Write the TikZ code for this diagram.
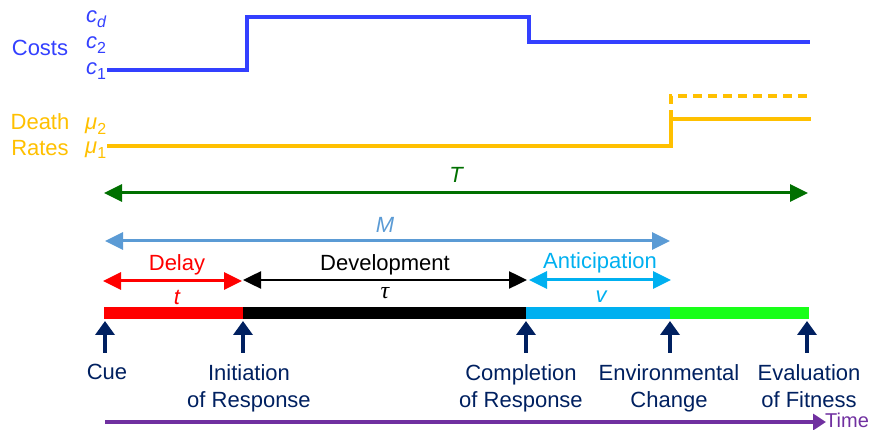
\documentclass[tikz,border=0pt]{standalone}
\usepackage{fontspec}
\setmainfont{Liberation Sans}
\newfontfamily\serifit{Liberation Serif}
\usetikzlibrary{arrows.meta}
\definecolor{costblue}{RGB}{51,64,255}
\definecolor{deathor}{RGB}{255,192,0}
\definecolor{tgreen}{RGB}{0,112,0}
\definecolor{msteel}{RGB}{91,155,213}
\definecolor{antcyan}{RGB}{0,176,240}
\definecolor{bargreen}{RGB}{24,255,24}
\definecolor{navy}{RGB}{0,32,96}
\definecolor{timepurple}{RGB}{112,48,160}
\newcommand{\mysub}[1]{\raisebox{-5pt}{\fontsize{16}{16}\selectfont #1}}
\tikzset{
  lab/.style={font=\fontsize{22}{27}\selectfont, inner sep=0pt, align=center},
  dimarrow/.style={line width=3pt, {Triangle[length=18pt,width=17pt]}-{Triangle[length=18pt,width=17pt]}},
  uparrow/.style={draw=navy, line width=4.5pt, -{Triangle[length=14pt,width=19pt]}},
  levelline/.style={line width=4pt},
}
\begin{document}
\begin{tikzpicture}[x=1pt,y=-1pt]
\useasboundingbox (0,0) rectangle (873,430);

% left labels
\node[lab, text=costblue] (costs) at (40,48) {Costs};
\node[lab, text=costblue, anchor=west] (cd) at (86,19) {\itshape c\mysub{d}};
\node[lab, text=costblue, anchor=west] (c2) at (86,45) {\itshape c\mysub{\upshape 2}};
\node[lab, text=costblue, anchor=west] (c1) at (86,71) {\itshape c\mysub{\upshape 1}};
\node[lab, text=deathor] (death) at (40,122) {Death};
\node[lab, text=deathor] (rates) at (40,148) {Rates};
\node[lab, text=deathor, anchor=west] (mu2) at (85,126) {\itshape μ\mysub{\upshape 2}};
\node[lab, text=deathor, anchor=west] (mu1) at (85,150) {\itshape μ\mysub{\upshape 1}};

% cost and death lines
\draw[levelline, costblue, line join=miter] (107,70) -- (247,70) -- (247,17) -- (529,17) -- (529,42) -- (810,42);
\draw[levelline, deathor, line width=3.5pt] (107,146) -- (671,146) -- (671,119) -- (811,119);
\draw[levelline, deathor, line width=3.5pt, dash pattern=on 9pt off 6pt] (671,119) -- (671,96) -- (811,96);

% timeline points
\coordinate (p0) at (104,313);
\coordinate (p1) at (243,313);
\coordinate (p2) at (526,313);
\coordinate (p3) at (670,313);
\coordinate (p4) at (809,313);

% bar
\fill[red] (104,307) rectangle (243,319);
\fill[black] (243,307) rectangle (526,319);
\fill[antcyan] (526,307) rectangle (670,319);
\fill[bargreen] (670,307) rectangle (809,319);

% dimension arrows
\coordinate (tl) at (104,193); \coordinate (tr) at (808,193);
\draw[dimarrow, tgreen] (tl) -- (tr);
\node[lab, text=tgreen] (tlab) at (456,175) {\itshape T};

\coordinate (ml) at (105,241); \coordinate (mr) at (670,241);
\draw[dimarrow, msteel] (ml) -- (mr);
\node[lab, text=msteel] (mlab) at (385,225) {\itshape M};

\coordinate (dl) at (103,281); \coordinate (dr) at (242,281);
\draw[dimarrow, red] (dl) -- (dr);
\node[lab, text=red] (delay) at (177,265) {Delay};
\node[lab, text=red] (tsmall) at (177,297) {\itshape t};

\coordinate (vl) at (243,280); \coordinate (vr) at (527,280);
\draw[dimarrow, black, line width=2.5pt] (vl) -- (vr);
\node[lab] (devel) at (385,265) {Development};
\node[lab, font=\fontsize{24}{27}\selectfont\serifit\itshape] (tau) at (385,293) {τ};

\coordinate (al) at (529,280); \coordinate (ar) at (671,280);
\draw[dimarrow, antcyan] (al) -- (ar);
\node[lab, text=antcyan] (antic) at (600,263) {Anticipation};
\node[lab, text=antcyan] (vlab) at (601,297) {\itshape v};

% up arrows
\foreach \n/\x in {0/105,1/243,2/526,3/670,4/807}{
  \coordinate (ub\n) at (\x,353);
  \coordinate (ut\n) at (\x,321);
  \draw[uparrow] (ub\n) -- (ut\n);
}

% event labels
\node[lab, text=navy, anchor=north] (cue) at (107,364) {Cue};
\node[lab, text=navy, anchor=north] (init) at (249,364) {Initiation\\of Response};
\node[lab, text=navy, anchor=north] (compl) at (521,364) {Completion\\of Response};
\node[lab, text=navy, anchor=north] (env) at (669,364) {Environmental\\Change};
\node[lab, text=navy, anchor=north] (eval) at (809,364) {Evaluation\\of Fitness};

% time arrow
\coordinate (ts) at (105,422);
\coordinate (te) at (826,422);
\draw[timepurple, line width=3.5pt, -{Triangle[length=13pt,width=16pt]}] (ts) -- (te);
\node[lab, text=timepurple, anchor=west, font=\fontsize{20}{24}\selectfont] (time) at (825,420) {Time};
\end{tikzpicture}
\end{document}
